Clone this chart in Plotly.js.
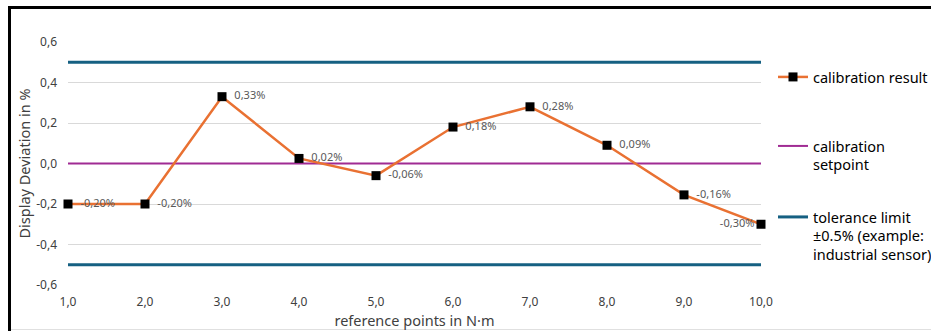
<!DOCTYPE html>
<html>
<head>
<meta charset="utf-8">
<script src="https://cdn.plot.ly/plotly-3.0.1.min.js"></script>
<style>html,body{margin:0;padding:0;background:#fff;}#chart{width:931px;height:331px;}</style>
</head>
<body>
<div id="chart"></div>
<script>
// ---- data ----
var referencePoints = [1, 2, 3, 4, 5, 6, 7, 8, 9, 10];
var calibrationResult = [-0.20, -0.20, 0.33, 0.025, -0.06, 0.18, 0.28, 0.09, -0.155, -0.30];
var dataLabels = ['-0,20%', '-0,20%', '0,33%', '0,02%', '-0,06%', '0,18%', '0,28%', '0,09%', '-0,16%', '-0,30%'];
var setpointX = [1, 10];
var setpointY = [0, 0];
var toleranceX = [1, 10, null, 1, 10];
var toleranceY = [0.5, 0.5, null, -0.5, -0.5];
var xTickVals = [1, 2, 3, 4, 5, 6, 7, 8, 9, 10];
var xTickText = ['1,0', '2,0', '3,0', '4,0', '5,0', '6,0', '7,0', '8,0', '9,0', '10,0'];
var yTickVals = [-0.6, -0.4, -0.2, 0, 0.2, 0.4, 0.6];
var yTickText = ['-0,6', '-0,4', '-0,2', '0,0', '0,2', '0,4', '0,6'];
var seriesNames = ['calibration result', 'calibration<br>setpoint', 'tolerance limit<br>±0.5% (example:<br>industrial sensor)'];

// ---- layout helpers ----
var W = 931, H = 331, L = 68, R = 761, T = 42, B = 285;
function px2x(px) { return (px - L) / (R - L); }
function py2y(py) { return (B - py) / (B - T); }
var FONT = 'Noto Sans, Open Sans, sans-serif';
var lastIdx = referencePoints.length - 1;
var labelPos = referencePoints.map(function (v, i) { return i === lastIdx ? 'middle left' : 'middle right'; });
var labelText = dataLabels.map(function (s, i) { return i === lastIdx ? s : '\u00a0\u00a0' + s; });

var traces = [
  {
    x: toleranceX, y: toleranceY, mode: 'lines', name: seriesNames[2],
    line: { color: '#156082', width: 3 }, legend: 'legend3', hoverinfo: 'skip', cliponaxis: false
  },
  {
    x: setpointX, y: setpointY, mode: 'lines', name: seriesNames[1],
    line: { color: '#A02B93', width: 2 }, legend: 'legend2', hoverinfo: 'skip', cliponaxis: false
  },
  {
    x: referencePoints, y: calibrationResult, mode: 'lines+markers+text', name: seriesNames[0],
    line: { color: '#E97132', width: 2.5 },
    marker: { symbol: 'square', size: 9, color: '#000000', line: { width: 0 } },
    text: labelText, textposition: labelPos,
    textfont: { family: FONT, size: 11, color: '#595959' },
    legend: 'legend', cliponaxis: false
  }
];

var legendBase = {
  x: px2x(773), xanchor: 'left', yanchor: 'top', valign: 'top',
  bgcolor: 'rgba(0,0,0,0)', borderwidth: 0,
  font: { family: FONT, size: 14.5, color: '#000000' }
};
function mkLegend(py) { var o = JSON.parse(JSON.stringify(legendBase)); o.y = py2y(py); return o; }

var layout = {
  width: W, height: H,
  margin: { l: L, r: W - R, t: T, b: H - B, pad: 0, autoexpand: false },
  paper_bgcolor: '#ffffff', plot_bgcolor: '#ffffff',
  font: { family: FONT, size: 12, color: '#404040' },
  showlegend: true,
  legend: mkLegend(61),
  legend2: mkLegend(130),
  legend3: mkLegend(201),
  xaxis: {
    range: [1, 10], tickvals: xTickVals, ticktext: xTickText,
    showgrid: false, zeroline: false, showline: false, ticks: '',
    ticklabelstandoff: 8,
    tickfont: { family: FONT, size: 12, color: '#404040' },
    title: { text: 'reference points in N·m', font: { family: FONT, size: 14.5, color: '#404040' }, standoff: 0 },
    automargin: false
  },
  yaxis: {
    range: [-0.6, 0.6], tickvals: yTickVals, ticktext: yTickText,
    showgrid: true, gridcolor: '#D9D9D9', gridwidth: 1,
    zeroline: false, showline: false, ticks: '',
    ticklabelstandoff: 10,
    tickfont: { family: FONT, size: 12, color: '#404040' },
    title: { text: 'Display Deviation in %', font: { family: FONT, size: 14.5, color: '#404040' }, standoff: 2 },
    automargin: false
  },
  shapes: [
    { type: 'line', xref: 'paper', yref: 'paper', x0: px2x(8), x1: px2x(931), y0: py2y(7.5), y1: py2y(7.5), line: { color: '#000000', width: 3 } },
    { type: 'line', xref: 'paper', yref: 'paper', x0: px2x(9.5), x1: px2x(9.5), y0: py2y(6), y1: py2y(331), line: { color: '#000000', width: 3 } },
    { type: 'line', xref: 'paper', yref: 'paper', x0: px2x(11), x1: px2x(931), y0: py2y(329.5), y1: py2y(329.5), line: { color: '#E0E0E0', width: 1 } }
  ]
};

Plotly.newPlot('chart', traces, layout, { staticPlot: true, displayModeBar: false });
</script>
</body>
</html>
